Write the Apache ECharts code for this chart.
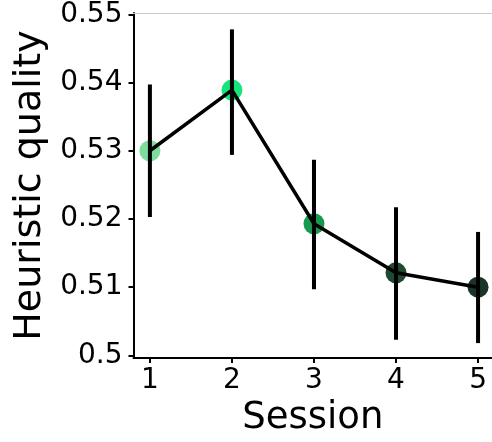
<!DOCTYPE html>
<html>
<head>
<meta charset="utf-8">
<script src="https://cdn.jsdelivr.net/npm/echarts@6/dist/echarts.min.js"></script>
<style>
  html, body { margin: 0; padding: 0; background: #fff; }
  #chart { width: 492px; height: 442px; }
</style>
</head>
<body>
<div id="chart"></div>
<script>
// 数据
const sessions = [1, 2, 3, 4, 5];
const quality = [0.53, 0.5389, 0.5193, 0.5121, 0.51];
const errLow = [0.5203, 0.5294, 0.5097, 0.5023, 0.5018];
const errHigh = [0.5397, 0.5478, 0.5287, 0.5217, 0.5181];
const pointColors = ["#7edc9e", "#18e27c", "#179a4f", "#1d4a31", "#1b3428"];
const yTicks = [0.5, 0.51, 0.52, 0.53, 0.54, 0.55];

const font = "DejaVu Sans";
const myChart = echarts.init(document.querySelector("#chart"));

const option = {
  animation: false,
  grid: {
    left: 133.5,
    top: 13,
    right: 0,
    bottom: 79,
  },
  xAxis: [
    {
      type: "value",
      min: 0.8,
      max: 5.17,
      name: "Session",
      nameLocation: "middle",
      nameGap: 38,
      nameTextStyle: { fontFamily: font, fontSize: 37, color: "#000" },
      axisLine: { lineStyle: { color: "#000", width: 2 } },
      axisTick: { length: 5, lineStyle: { color: "#000", width: 2 }, customValues: sessions },
      axisLabel: {
        customValues: sessions,
        fontFamily: font,
        fontSize: 28,
        color: "#000",
        margin: 9,
      },
      splitLine: { show: false },
    },
    {
      // 顶部浅灰边线
      type: "value",
      position: "top",
      min: 0.8,
      max: 5.17,
      axisLine: { show: true, lineStyle: { color: "#cccccc", width: 1 } },
      axisTick: { show: false },
      axisLabel: { show: false },
      splitLine: { show: false },
    },
  ],
  yAxis: {
    type: "value",
    min: 0.4996,
    max: 0.5502,
    name: "Heuristic quality",
    nameLocation: "middle",
    nameGap: 76,
    nameTextStyle: { fontFamily: font, fontSize: 38, color: "#000" },
    axisLine: { show: true, lineStyle: { color: "#000", width: 2 } },
    axisTick: { show: true, length: 5, lineStyle: { color: "#000", width: 2 }, customValues: yTicks },
    axisLabel: {
      customValues: yTicks,
      fontFamily: font,
      fontSize: 28,
      color: "#000",
      margin: 11,
      formatter: (v) => (Math.abs(v - 0.5) < 1e-9 ? "0.5" : v.toFixed(2)),
    },
    splitLine: { show: false },
  },
  series: [
    {
      // 圆点
      type: "scatter",
      z: 1,
      symbolSize: 21,
      itemStyle: { opacity: 1 },
      data: sessions.map((s, i) => ({
        value: [s, quality[i]],
        itemStyle: { color: pointColors[i], opacity: 1 },
      })),
    },
    {
      // 折线
      type: "line",
      z: 2,
      showSymbol: false,
      lineStyle: { color: "#000", width: 3.5 },
      data: sessions.map((s, i) => [s, quality[i]]),
    },
    {
      // 误差线
      type: "custom",
      z: 3,
      renderItem: (params, api) => {
        const x = api.value(0);
        const lo = api.coord([x, api.value(1)]);
        const hi = api.coord([x, api.value(2)]);
        return {
          type: "line",
          shape: { x1: lo[0], y1: lo[1], x2: hi[0], y2: hi[1] },
          style: { stroke: "#000", lineWidth: 4 },
        };
      },
      data: sessions.map((s, i) => [s, errLow[i], errHigh[i]]),
    },
  ],
};

myChart.setOption(option);
</script>
</body>
</html>
